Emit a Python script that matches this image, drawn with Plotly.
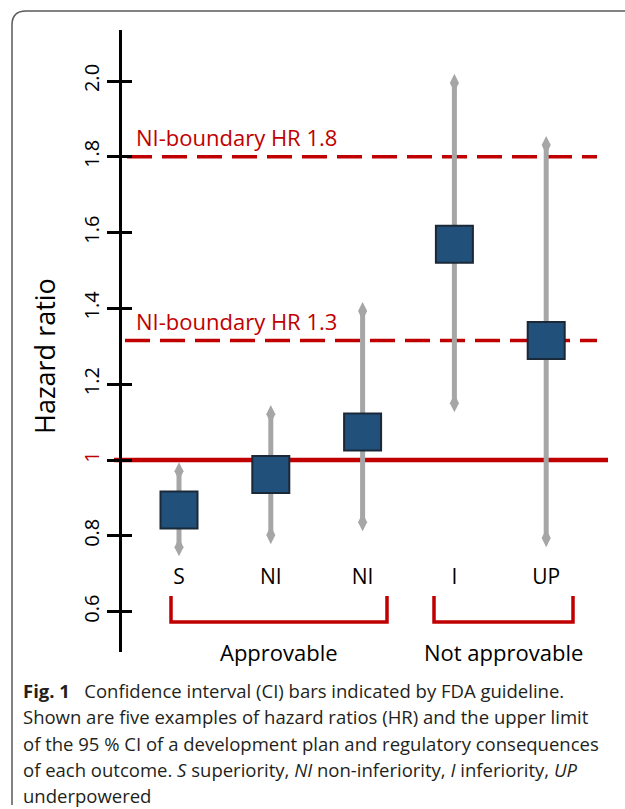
import plotly.graph_objects as go

# ---------------- data ----------------
categories = ["S", "NI", "NI", "I", "UP"]
hazard_ratio = [0.868, 0.962, 1.074, 1.569, 1.315]
ci_lower = [0.770, 0.802, 0.836, 1.150, 0.794]
ci_upper = [0.970, 1.121, 1.393, 1.995, 1.831]
reference_hr = 1.0
ni_boundaries = [1.8, 1.315]
ni_labels = ["NI-boundary HR 1.8", "NI-boundary HR 1.3"]
group_labels = ["Approvable", "Not approvable"]
y_tick_values = [0.6, 0.8, 1.0, 1.2, 1.4, 1.6, 1.8, 2.0]
y_tick_labels = ["0.6", "0.8", "1", "1.2", "1.4", "1.6", "1.8", "2.0"]
caption_lines = [
    "<b>Fig. 1</b>   Confidence interval (CI) bars indicated by FDA guideline.",
    "Shown are five examples of hazard ratios (HR) and the upper limit",
    "of the 95 % CI of a development plan and regulatory consequences",
    "of each outcome. <i>S</i> superiority, <i>NI</i> non-inferiority, <i>I</i> inferiority, <i>UP</i>",
    "underpowered",
]

# ---------------- layout geometry (pixels) ----------------
W, H = 625, 809
T, B = 30, 157
PH = H - T - B
X0_PX, X_STEP = 179.0, 91.8          # pixel of first category, spacing
Y1_PX, Y_UNIT = 460.0, 379.0         # pixel of HR=1, pixels per HR unit


def px_x(px):
    return (px - X0_PX) / X_STEP


def px_y(py):
    return 1 + (Y1_PX - py) / Y_UNIT


def paper_y(py):
    return (H - B - py) / PH


def paper_x(px):
    return px / W


RED = "#C00000"
GREY = "#A6A6A6"
BLUE = "#21507A"
FONT = "Open Sans"

idx = list(range(len(categories)))
y_range = [px_y(H - B), px_y(T)]
x_range = [px_x(0), px_x(W)]

fig = go.Figure()

# whiskers (CI)
fig.add_trace(go.Scatter(
    x=idx, y=hazard_ratio, mode="markers",
    marker=dict(size=1, opacity=0),
    error_y=dict(type="data", symmetric=False,
                 array=[u - h for u, h in zip(ci_upper, hazard_ratio)],
                 arrayminus=[h - l for h, l in zip(hazard_ratio, ci_lower)],
                 color=GREY, thickness=5, width=0),
    hoverinfo="skip", showlegend=False,
))
# whisker end heads
fig.add_trace(go.Scatter(
    x=idx + idx, y=ci_lower + ci_upper, mode="markers",
    marker=dict(symbol="diamond-tall", size=13, color=GREY, line=dict(width=0)),
    hoverinfo="skip", showlegend=False,
))
# point estimates
fig.add_trace(go.Scatter(
    x=idx, y=hazard_ratio, mode="markers",
    marker=dict(symbol="square", size=37, color=BLUE, line=dict(color="#1B2838", width=2)),
    showlegend=False,
))
# dummy trace for secondary (inner-tick) axis
fig.add_trace(go.Scatter(x=[0], y=[1], yaxis="y2", mode="markers",
                         marker=dict(opacity=0), hoverinfo="skip", showlegend=False))

shapes = []
# reference line HR=1
shapes.append(dict(type="line", xref="x", yref="y", x0=px_x(114), x1=px_x(608),
                   y0=reference_hr, y1=reference_hr, layer="below",
                   line=dict(color=RED, width=4.5)))
# NI boundaries
for b, x_start in zip(ni_boundaries, [127, 125]):
    shapes.append(dict(type="line", xref="x", yref="y", x0=px_x(x_start), x1=px_x(597),
                       y0=b, y1=b, layer="below",
                       line=dict(color=RED, width=3.5, dash="25px,10px")))
# group brackets
bracket_px = [(171, 387), (434, 573)]
yt, yb = px_y(596), px_y(622)
for (l, r) in bracket_px:
    xl, xr = px_x(l), px_x(r)
    shapes.append(dict(type="path", xref="x", yref="y",
                       path=f"M {xl},{yt} L {xl},{yb} L {xr},{yb} L {xr},{yt}",
                       line=dict(color=RED, width=3.5)))
# frame
fx = paper_x(12)
ft, fb = paper_y(11), paper_y(805)
rx, ry = 14 / W, 14 / PH
shapes.append(dict(type="path", xref="paper", yref="paper",
                   path=f"M {fx},{fb} L {fx},{ft - ry} Q {fx},{ft} {fx + rx},{ft} L 1.02,{ft}",
                   line=dict(color="#5A5A5A", width=1.5)))

annotations = []
annotations.append(dict(text="Hazard ratio", xref="paper", yref="paper",
                        x=paper_x(44), y=paper_y(356), xanchor="center", yanchor="middle",
                        textangle=-90, showarrow=False,
                        font=dict(family=FONT, size=27, color="black")))
for b, lab in zip(ni_boundaries, ni_labels):
    annotations.append(dict(text=lab, xref="paper", yref="y", x=paper_x(134), y=b,
                            xanchor="left", yanchor="middle", yshift=20, showarrow=False,
                            font=dict(family=FONT, size=22, color=RED)))
for (l, r), lab in zip(bracket_px, group_labels):
    annotations.append(dict(text=lab, xref="paper", yref="paper", x=paper_x((l + r) / 2),
                            y=paper_y(652), xanchor="center", yanchor="middle", showarrow=False,
                            font=dict(family=FONT, size=22, color="black")))
for k, line in enumerate(caption_lines):
    annotations.append(dict(text=line, xref="paper", yref="paper", x=paper_x(21),
                            y=paper_y(690 + 26.5 * k), xanchor="left", yanchor="middle",
                            showarrow=False, font=dict(family=FONT, size=18.5, color="#231F20")))

fig.update_layout(
    width=W, height=H,
    margin=dict(l=0, r=0, t=T, b=B, pad=0),
    paper_bgcolor="white", plot_bgcolor="rgba(0,0,0,0)",
    showlegend=False,
    xaxis=dict(range=x_range, anchor="free", position=paper_y(562),
               tickmode="array", tickvals=idx, ticktext=categories,
               showline=False, showgrid=False, zeroline=False, ticks="",
               tickfont=dict(family=FONT, size=21, color="black")),
    yaxis=dict(range=y_range, anchor="free", position=paper_x(120),
               tickmode="array", tickvals=y_tick_values,
               ticktext=[f'<span style="color:{RED}">{t}</span>' if t == "1" else t
                         for t in y_tick_labels],
               tickangle=-90, ticks="outside", ticklen=12, tickwidth=2.5, tickcolor="black",
               showline=True, linecolor="black", linewidth=2.5,
               showgrid=False, zeroline=False,
               tickfont=dict(family=FONT, size=20, color="black")),
    yaxis2=dict(range=y_range, overlaying="y", anchor="free", position=paper_x(120),
                tickmode="array", tickvals=y_tick_values, showticklabels=False,
                ticks="inside", ticklen=11, tickwidth=2.5, tickcolor="black",
                showline=False, showgrid=False, zeroline=False),
    shapes=shapes,
    annotations=annotations,
)

fig.write_html("out.html", config={"displayModeBar": False},
               post_script="document.body.style.margin='0';document.body.style.overflow='hidden';")
